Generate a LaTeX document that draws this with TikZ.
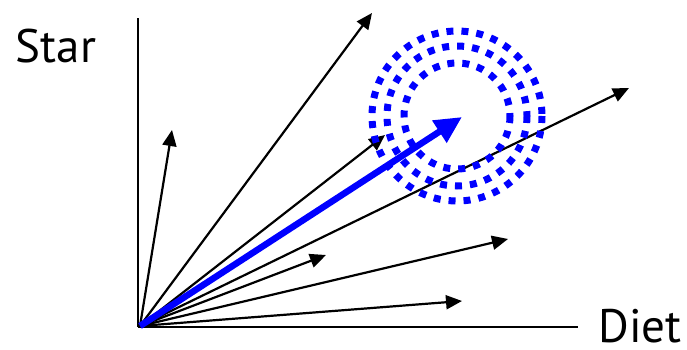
\documentclass[tikz,border=0pt]{standalone}
\usepackage{fontspec}
\setmainfont{PT Sans}
\usetikzlibrary{arrows.meta}
\definecolor{vecblue}{HTML}{0000FF}
\definecolor{vecdark}{HTML}{000000}

\begin{document}
\begin{tikzpicture}[
    x=1pt, y=-1pt,
    axis/.style={line width=2.6pt, vecdark},
    vec/.style={line width=2.2pt, vecdark, -{Triangle[length=16pt, width=14pt]}},
    mainvec/.style={line width=6.5pt, vecblue, -{Triangle[length=27pt, width=25pt]}},
    ring/.style={line width=7pt, vecblue, dash pattern=on 7pt off 8pt},
    axislabel/.style={font=\fontsize{47}{50}\selectfont, anchor=base, inner sep=0pt}
]
\useasboundingbox (0,0) rectangle (687,350);

% Axes
\coordinate (Corner) at (138,327);
\coordinate (Ytop) at (138,18);
\coordinate (Xend) at (578,327);
\draw[axis] (Corner) -- (Ytop);
\draw[axis] (Corner) -- (Xend);

% Axis Labels
\node[axislabel] (star) at (56,63) {Star};
\node[axislabel] (diet) at (640,342) {Diet};

% Origin
\coordinate (O) at (140,326);

% Item Vectors
\coordinate (v1) at (172,130);
\coordinate (v2) at (372,13);
\coordinate (v3) at (629,88);
\coordinate (v4) at (326,255);
\coordinate (v5) at (508,239);
\coordinate (v6) at (462,301);
\coordinate (v7) at (385,135);
\foreach \v in {v1,v2,v3,v4,v5,v6,v7}
    \draw[vec] (O) -- (\v);

% Neighbourhood Rings
\coordinate (C) at (457,116);
\draw[ring] (C) circle (53);
\draw[ring] (C) circle (70);
\draw[ring] (C) circle (85);

% Query Vector
\coordinate (q) at (462,117);
\draw[mainvec] (O) -- (q);

\end{tikzpicture}
\end{document}
